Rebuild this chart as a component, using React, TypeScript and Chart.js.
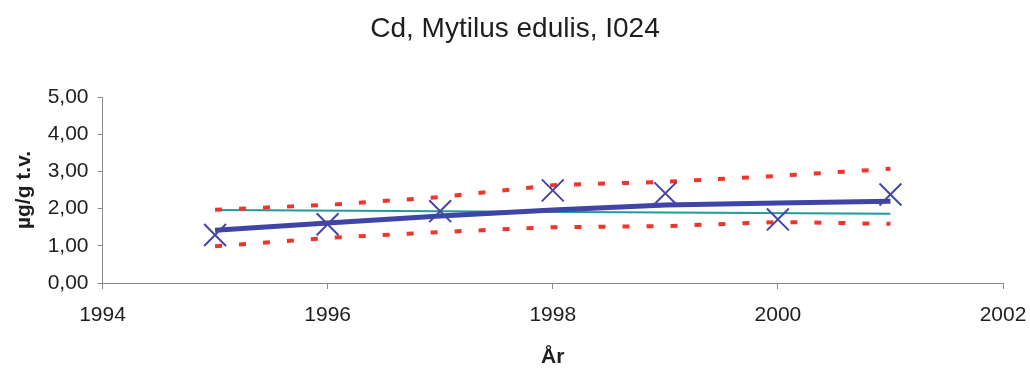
import React, { useEffect, useRef } from "react";
import { Chart, registerables } from "chart.js";

Chart.register(...registerables);

// Sampling years
const years = [1995, 1996, 1997, 1998, 1999, 2000, 2001];
// Measured Cd concentration (µg/g dry weight)
const measured = [1.29, 1.58, 1.93, 2.49, 2.41, 1.71, 2.38];
// Smoothed trend
const smoothed = [1.42, 1.61, 1.8, 1.96, 2.1, 2.15, 2.2];
// Upper and lower confidence band
const upperBand = [1.97, 2.1, 2.31, 2.63, 2.72, 2.88, 3.07];
const lowerBand = [0.99, 1.21, 1.37, 1.5, 1.53, 1.64, 1.59];
// Linear regression line end points
const regressionYears = [1995, 2001];
const regression = [1.96, 1.86];

const xTicks = [1994, 1996, 1998, 2000, 2002];
const yTicks = [0, 1, 2, 3, 4, 5];

const toPoints = (xs: number[], ys: number[]) => xs.map((x, i) => ({ x, y: ys[i] }));

export default function App() {
  const canvasRef = useRef<HTMLCanvasElement | null>(null);

  useEffect(() => {
    const canvas = canvasRef.current;
    if (!canvas) return;
    const font = "'Liberation Sans', Arial, Helvetica, sans-serif";
    const axisColor = "#8a8a8a";

    const chart = new Chart(canvas, {
      type: "line",
      data: {
        datasets: [
          {
            label: "Cd",
            data: toPoints(years, measured),
            showLine: false,
            pointStyle: "crossRot",
            pointRadius: 15.5,
            pointBorderWidth: 2,
            borderColor: "#4545a5",
            backgroundColor: "#4545a5",
            order: 0,
          },
          {
            label: "Trend",
            data: toPoints(years, smoothed),
            borderColor: "#3f44a6",
            borderWidth: 5,
            pointRadius: 0,
            tension: 0,
            order: 2,
          },
          {
            label: "Regresjon",
            data: toPoints(regressionYears, regression),
            borderColor: "#239a9e",
            borderWidth: 2,
            pointRadius: 0,
            order: 3,
          },
          {
            label: "Øvre",
            data: toPoints(years, upperBand),
            borderColor: "#f2352c",
            borderWidth: 4,
            borderDash: [7, 17],
            pointRadius: 0,
            order: 1,
          },
          {
            label: "Nedre",
            data: toPoints(years, lowerBand),
            borderColor: "#f2352c",
            borderWidth: 4,
            borderDash: [7, 17],
            pointRadius: 0,
            order: 1,
          },
        ],
      },
      options: {
        responsive: false,
        animation: false,
        layout: { padding: 0 },
        plugins: {
          legend: { display: false },
          tooltip: { enabled: false },
          title: {
            display: true,
            text: "Cd, Mytilus edulis, I024",
            color: "#1e1e1e",
            font: { family: font, size: 28, weight: "normal", lineHeight: 1 },
            padding: { top: 15, bottom: 54 },
          },
        },
        scales: {
          x: {
            type: "linear",
            min: xTicks[0],
            max: xTicks[xTicks.length - 1],
            afterBuildTicks: (scale: any) => {
              scale.ticks = xTicks.map((v) => ({ value: v }));
            },
            afterFit: (scale: any) => {
              // leave room on the right for the last year label
              scale.paddingLeft = 0;
              scale.paddingRight = 27;
              scale.height = 86;
            },
            grid: {
              drawOnChartArea: false,
              drawTicks: true,
              tickLength: 6,
              color: axisColor,
            },
            border: { display: true, color: axisColor, width: 1 },
            ticks: {
              color: "#1e1e1e",
              padding: 16,
              maxRotation: 0,
              font: { family: font, size: 21, lineHeight: 1 },
              callback: (v: any) => String(v),
            },
            title: {
              display: true,
              text: "År",
              color: "#1e1e1e",
              font: { family: font, size: 21, weight: "bold", lineHeight: 1 },
              padding: { top: 0, bottom: 1 },
            },
          },
          y: {
            type: "linear",
            min: yTicks[0],
            max: yTicks[yTicks.length - 1],
            afterBuildTicks: (scale: any) => {
              scale.ticks = yTicks.map((v) => ({ value: v }));
            },
            afterFit: (scale: any) => {
              scale.paddingTop = 0;
              scale.paddingBottom = 0;
              scale.width = 102.5;
            },
            grid: {
              drawOnChartArea: false,
              drawTicks: true,
              tickLength: 5,
              color: axisColor,
            },
            border: { display: true, color: axisColor, width: 1 },
            ticks: {
              color: "#1e1e1e",
              padding: 9,
              font: { family: font, size: 21, lineHeight: 1 },
              callback: (v: any) => Number(v).toFixed(2).replace(".", ","),
            },
            title: {
              display: true,
              text: "µg/g t.v.",
              color: "#1e1e1e",
              font: { family: font, size: 21, weight: "bold", lineHeight: 1 },
              padding: { top: 14, bottom: 0 },
            },
          },
        },
      },
    });

    return () => chart.destroy();
  }, []);

  return (
    <div style={{ position: "absolute", left: 0, top: 0, width: 1030, height: 369, background: "#fff" }}>
      <canvas ref={canvasRef} width={1030} height={369} style={{ display: "block" }} />
    </div>
  );
}
